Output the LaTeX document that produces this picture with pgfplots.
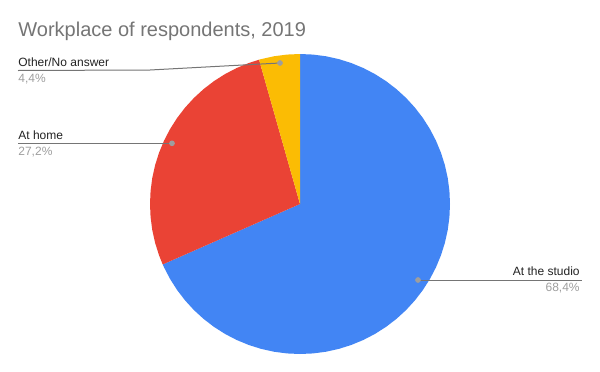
\documentclass[border=0pt]{standalone}
\usepackage{pgfplots}
\pgfplotsset{compat=1.18}
\usepackage{fontspec}
\setmainfont{Liberation Sans}
\definecolor{cblue}{HTML}{4285F4}
\definecolor{cred}{HTML}{EA4335}
\definecolor{cyel}{HTML}{FBBC04}
\definecolor{ctitle}{HTML}{757575}
\definecolor{clab}{HTML}{222222}
\definecolor{cpct}{HTML}{9E9E9E}
\definecolor{cline}{HTML}{757575}
\definecolor{cdot}{HTML}{9E9E9E}
\begin{document}
\begin{tikzpicture}
\useasboundingbox (0,0) rectangle (300pt,185.5pt);
\begin{axis}[
  at={(0,0)}, anchor=south west,
  scale only axis, width=300pt, height=185.5pt,
  xmin=-300, xmax=300, ymin=-167, ymax=204,
  hide axis, clip=false,
]
% At the studio 68.4%  (90 -> -156.24)
\addplot[fill=cblue, draw=none, data cs=polar] coordinates {
(0,0) (90,150) (85,150) (80,150) (75,150) (70,150) (65,150) (60,150) (55,150) (50,150) (45,150) (40,150) (35,150) (30,150) (25,150) (20,150) (15,150) (10,150) (5,150) (0,150)
(-5,150) (-10,150) (-15,150) (-20,150) (-25,150) (-30,150) (-35,150) (-40,150) (-45,150) (-50,150) (-55,150) (-60,150) (-65,150) (-70,150) (-75,150) (-80,150) (-85,150) (-90,150)
(-95,150) (-100,150) (-105,150) (-110,150) (-115,150) (-120,150) (-125,150) (-130,150) (-135,150) (-140,150) (-145,150) (-150,150) (-155,150) (-156.24,150) (0,0)
} -- cycle;
% At home 27.2%  (-156.24 -> -254.16)
\addplot[fill=cred, draw=none, data cs=polar] coordinates {
(0,0) (-156.24,150) (-160,150) (-165,150) (-170,150) (-175,150) (-180,150) (-185,150) (-190,150) (-195,150) (-200,150) (-205,150) (-210,150) (-215,150) (-220,150) (-225,150) (-230,150) (-235,150) (-240,150) (-245,150) (-250,150) (-254.16,150) (0,0)
} -- cycle;
% Other/No answer 4.4%  (-254.16 -> -270)
\addplot[fill=cyel, draw=none, data cs=polar] coordinates {
(0,0) (-254.16,150) (-255,150) (-260,150) (-265,150) (-270,150) (0,0)
} -- cycle;
% leader lines
\addplot[cline, line width=0.5pt, no marks] coordinates {(-282,133.5) (-150,134) (-20,141)};
\addplot[cline, line width=0.5pt, no marks] coordinates {(-282,60.7) (-128,60.7)};
\addplot[cline, line width=0.5pt, no marks] coordinates {(118,-76) (282,-76)};
\addplot[only marks, mark=*, mark size=1.2pt, cdot, mark options={draw=cdot, fill=cdot}] coordinates {(-20,141) (-128,60.7) (118,-76)};
% texts
\node[anchor=base west, inner sep=0pt, text=ctitle, font=\fontsize{10}{12}\selectfont] at (axis cs:-282,168) {Workplace of respondents, 2019};
\node[anchor=base west, inner sep=0pt, text=clab, font=\fontsize{6}{7}\selectfont] at (axis cs:-282,138) {Other/No answer};
\node[anchor=base west, inner sep=0pt, text=cpct, font=\fontsize{6}{7}\selectfont] at (axis cs:-282,121.5) {4,4\%};
\node[anchor=base west, inner sep=0pt, text=clab, font=\fontsize{6}{7}\selectfont] at (axis cs:-282,65) {At home};
\node[anchor=base west, inner sep=0pt, text=cpct, font=\fontsize{6}{7}\selectfont] at (axis cs:-282,48.5) {27,2\%};
\node[anchor=base east, inner sep=0pt, text=clab, font=\fontsize{6}{7}\selectfont] at (axis cs:280,-71.7) {At the studio};
\node[anchor=base east, inner sep=0pt, text=cpct, font=\fontsize{6}{7}\selectfont] at (axis cs:280,-87.7) {68,4\%};
\end{axis}
\end{tikzpicture}
\end{document}
